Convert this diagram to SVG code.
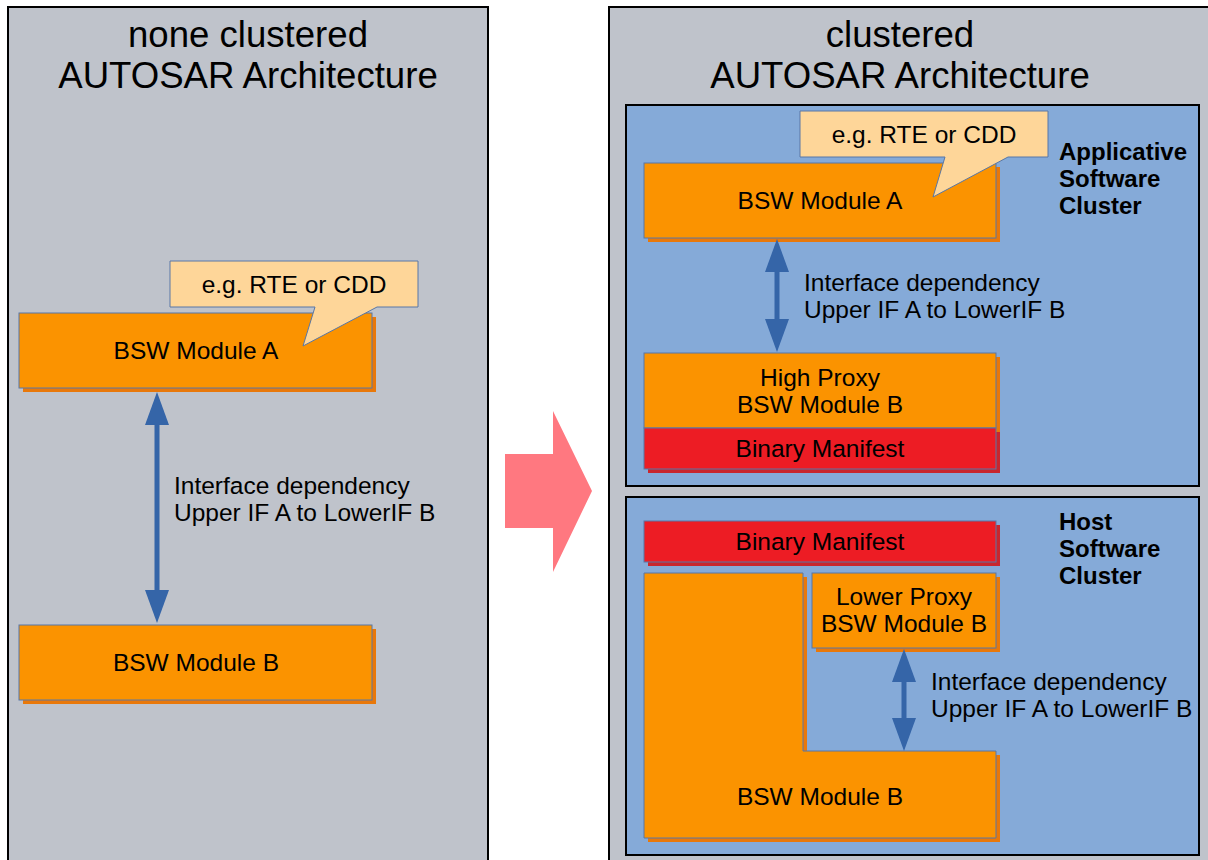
<svg xmlns="http://www.w3.org/2000/svg" width="1208" height="860" viewBox="0 0 1208 860">
<style>
text{font-family:"Liberation Sans",Arial,sans-serif;fill:#000}
.title{font-size:36.6px;text-anchor:middle}
.lbl{font-size:24.5px;text-anchor:middle}
.dep{font-size:24.5px}
.cl{font-size:24px;font-weight:bold}
.panel{fill:#bfc3cb;stroke:#000;stroke-width:2}
.cluster{fill:#85aad8;stroke:#000;stroke-width:2}
.org{fill:#fb9300;stroke:#5877a6;stroke-width:1}
.orgsh{fill:#e8780a}
.red{fill:#ed1c24;stroke:#5877a6;stroke-width:1}
.redsh{fill:#c8262e}
.call{fill:#fed699;stroke:#5877a6;stroke-width:1}
.conn{stroke:#3565a8;stroke-width:5;fill:none;marker-start:url(#ah);marker-end:url(#ah)}
</style>
<defs>
<marker id="ah" viewBox="0 0 33 24" refX="3" refY="12" markerWidth="33" markerHeight="24" markerUnits="userSpaceOnUse" orient="auto-start-reverse">
<path d="M0,0 L33,12 L0,24 z" fill="#3565a8"/>
</marker>
</defs>
<rect width="1208" height="860" fill="#fff"/>

<g id="panel-left">
<rect class="panel" x="8" y="7" width="480" height="870"/>
<text class="title" x="248" y="47">none clustered</text>
<text class="title" x="248" y="88">AUTOSAR Architecture</text>
</g>

<g id="panel-right">
<rect class="panel" x="609" y="7" width="620" height="870"/>
<text class="title" x="900" y="47">clustered</text>
<text class="title" x="900" y="88">AUTOSAR Architecture</text>
</g>

<g id="transition-arrow">
<polygon points="505,454 553,454 553,411 592,491 553,572 553,528 505,528" fill="#ff7880"/>
</g>

<g id="cluster-applicative">
<rect class="cluster" x="626" y="105" width="573" height="381"/>
<text class="cl" x="1059" y="160">Applicative</text>
<text class="cl" x="1059" y="187">Software</text>
<text class="cl" x="1059" y="214">Cluster</text>
</g>

<g id="cluster-host">
<rect class="cluster" x="626" y="497" width="573" height="358"/>
<text class="cl" x="1059" y="530">Host</text>
<text class="cl" x="1059" y="557">Software</text>
<text class="cl" x="1059" y="584">Cluster</text>
</g>

<g id="left-bsw-a">
<rect class="orgsh" x="23" y="317" width="353" height="75"/>
<rect class="org" x="19" y="313" width="353" height="75"/>
<text class="lbl" x="196" y="359">BSW Module A</text>
</g>

<g id="left-callout">
<polygon class="call" points="170,261 418,261 418,307 377,307 303,346 315,307 170,307"/>
<text class="lbl" x="294" y="293">e.g. RTE or CDD</text>
</g>

<g id="left-bsw-b">
<rect class="orgsh" x="23" y="629" width="353" height="75"/>
<rect class="org" x="19" y="625" width="353" height="75"/>
<text class="lbl" x="196" y="671">BSW Module B</text>
</g>

<g id="right-bsw-a">
<rect class="orgsh" x="648" y="167" width="352" height="75"/>
<rect class="org" x="644" y="163" width="352" height="75"/>
<text class="lbl" x="820" y="209">BSW Module A</text>
</g>

<g id="right-callout">
<polygon class="call" points="800,111 1048,111 1048,157 1008,157 933,197 945,157 800,157"/>
<text class="lbl" x="924" y="143">e.g. RTE or CDD</text>
</g>

<g id="high-proxy">
<rect class="orgsh" x="648" y="357" width="352" height="75"/>
<rect class="org" x="644" y="353" width="352" height="75"/>
<text class="lbl" x="820" y="386">High Proxy</text>
<text class="lbl" x="820" y="413">BSW Module B</text>
</g>

<g id="binary-manifest-app">
<rect class="redsh" x="648" y="432" width="352" height="41"/>
<rect class="red" x="644" y="428" width="352" height="41"/>
<text class="lbl" x="820" y="457">Binary Manifest</text>
</g>

<g id="binary-manifest-host">
<rect class="redsh" x="648" y="525" width="352" height="41"/>
<rect class="red" x="644" y="521" width="352" height="41"/>
<text class="lbl" x="820" y="550">Binary Manifest</text>
</g>

<g id="lower-proxy">
<rect class="orgsh" x="816" y="577" width="184" height="75"/>
<rect class="org" x="812" y="573" width="184" height="75"/>
<text class="lbl" x="904" y="605">Lower Proxy</text>
<text class="lbl" x="904" y="632">BSW Module B</text>
</g>

<g id="host-bsw-b">
<polygon class="orgsh" points="648,577 807,577 807,755 1000,755 1000,842 648,842"/>
<polygon class="org" points="644,573 803,573 803,751 996,751 996,838 644,838"/>
<text class="lbl" x="820" y="805">BSW Module B</text>
</g>

<g id="connectors">
<line class="conn" x1="157" y1="422" x2="157" y2="593"/>
<line class="conn" x1="777" y1="269" x2="777" y2="322"/>
<line class="conn" x1="904" y1="679" x2="904" y2="721"/>
</g>

<g id="connector-labels">
<text class="dep" x="174" y="494">Interface dependency</text>
<text class="dep" x="174" y="521">Upper IF A to LowerIF B</text>
<text class="dep" x="804" y="291">Interface dependency</text>
<text class="dep" x="804" y="318">Upper IF A to LowerIF B</text>
<text class="dep" x="931" y="690">Interface dependency</text>
<text class="dep" x="931" y="717">Upper IF A to LowerIF B</text>
</g>
</svg>
